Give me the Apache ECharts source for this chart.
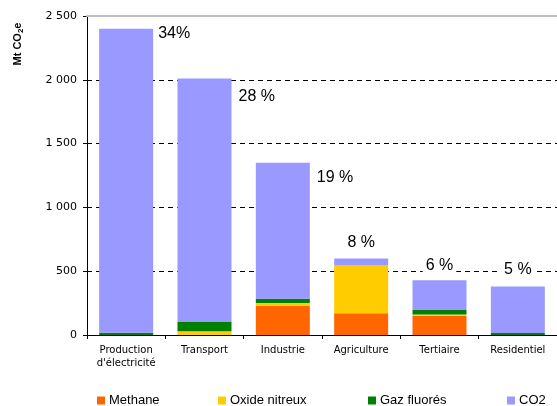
<!DOCTYPE html>
<html>
<head>
<meta charset="utf-8">
<script src="https://cdn.jsdelivr.net/npm/echarts@6/dist/echarts.min.js"></script>
<style>html,body{margin:0;padding:0;background:#fff}#c{width:557px;height:406px}</style>
</head>
<body>
<div id="c"></div>
<script>
var categories = ["Production\nd'électricité", 'Transport', 'Industrie', 'Agriculture', 'Tertiaire', 'Residentiel'];
var methane = [0, 0, 230, 170, 150, 0];
var oxideNitreux = [0, 30, 20, 375, 10, 0];
var gazFluores = [18, 75, 35, 0, 40, 15];
var co2 = [2382, 1905, 1065, 55, 230, 365];
var shares = ['34%', '28 %', '19 %', '8 %', '6 %', '5 %'];
var yTicks = [0, 500, 1000, 1500, 2000, 2500];

// label placement styles (not data)
var shareLabelPlacement = [
  {position: [56, -3]},
  {position: [58, 10]},
  {position: [58, 7]},
  {position: 'top', distance: 8},
  {position: 'top', distance: 7},
  {position: 'top', distance: 9}
];

var chart = echarts.init(document.getElementById('c'), null, {renderer: 'canvas'});

function fmt(v) { return String(v).replace(/\B(?=(\d{3})+(?!\d))/g, ' '); }

var co2Data = co2.map(function (v, i) {
  var p = shareLabelPlacement[i];
  var lab = {
    show: true,
    formatter: shares[i],
    fontFamily: 'Liberation Sans, Arial, sans-serif',
    fontSize: 16,
    color: '#000',
    backgroundColor: '#fff',
    padding: [0, 3],
    lineHeight: 16
  };
  if (Array.isArray(p.position)) {
    lab.position = p.position;
    lab.align = 'left';
    lab.verticalAlign = 'top';
  } else {
    lab.position = p.position;
    lab.distance = p.distance;
  }
  return {value: v, label: lab};
});

var colors = {Methane: '#FF6600', 'Oxide nitreux': '#FFCC00', 'Gaz fluorés': '#008000', CO2: '#9999FF'};
var names = ['Methane', 'Oxide nitreux', 'Gaz fluorés', 'CO2'];
var legendLefts = [92, 213, 363, 502];

var option = {
  animation: false,
  grid: {left: 87, top: 16, right: -4, bottom: 71, containLabel: false},
  legend: names.map(function (n, i) {
    return {
      data: [n],
      left: legendLefts[i],
      top: 389,
      itemWidth: 8,
      itemHeight: 8,
      itemGap: 0,
      icon: 'rect',
      textStyle: {fontFamily: 'Liberation Sans, Arial, sans-serif', fontSize: 13, color: '#000', padding: [0, 0, 0, -1]}
    };
  }),
  graphic: [{
    type: 'text',
    x: 18,
    y: 44,
    rotation: Math.PI / 2,
    style: {
      text: 'Mt CO{s|2}e',
      fontFamily: 'Liberation Sans, Arial, sans-serif',
      fontSize: 11,
      fontWeight: 'bold',
      fill: '#000',
      align: 'center',
      verticalAlign: 'middle',
      rich: {s: {fontSize: 8, fontWeight: 'bold', fill: '#000', padding: [5, 0, 0, 0], fontFamily: 'Liberation Sans, Arial, sans-serif'}}
    }
  }],
  xAxis: [{
    type: 'category',
    data: categories,
    axisLine: {show: true, lineStyle: {color: '#000', width: 1}},
    axisTick: {show: true, length: 4, interval: 0, alignWithLabel: false, lineStyle: {color: '#000'}},
    axisLabel: {interval: 0, margin: 9, fontFamily: 'DejaVu Sans, sans-serif', fontSize: 10, lineHeight: 13, color: '#000'},
    splitLine: {show: false},
    z: 5
  }, {
    type: 'category',
    position: 'top',
    data: categories,
    axisLine: {show: true, lineStyle: {color: '#c0c0c0', width: 2}},
    axisTick: {show: false},
    axisLabel: {show: false},
    splitLine: {show: false},
    z: 5
  }],
  yAxis: {
    type: 'value',
    min: 0,
    max: 2500,
    interval: 500,
    axisLine: {show: true, lineStyle: {color: '#000', width: 1}},
    axisTick: {show: true, length: 4, inside: false, lineStyle: {color: '#000'}},
    axisLabel: {
      margin: 10,
      fontFamily: 'DejaVu Sans, sans-serif',
      fontSize: 11,
      color: '#000',
      formatter: function (v) { return yTicks.indexOf(v) >= 0 ? fmt(v) : ''; }
    },
    splitLine: {show: true, lineStyle: {color: '#000', type: [5, 4], width: 1}}
  },
  series: [
    {name: 'Methane', type: 'bar', stack: 't', data: methane, barWidth: 54, itemStyle: {color: colors['Methane']}},
    {name: 'Oxide nitreux', type: 'bar', stack: 't', data: oxideNitreux, barWidth: 54, itemStyle: {color: colors['Oxide nitreux']}},
    {name: 'Gaz fluorés', type: 'bar', stack: 't', data: gazFluores, barWidth: 54, itemStyle: {color: colors['Gaz fluorés']}},
    {name: 'CO2', type: 'bar', stack: 't', data: co2Data, barWidth: 54, itemStyle: {color: colors['CO2']}, z: 3}
  ]
};
chart.setOption(option);
</script>
</body>
</html>
